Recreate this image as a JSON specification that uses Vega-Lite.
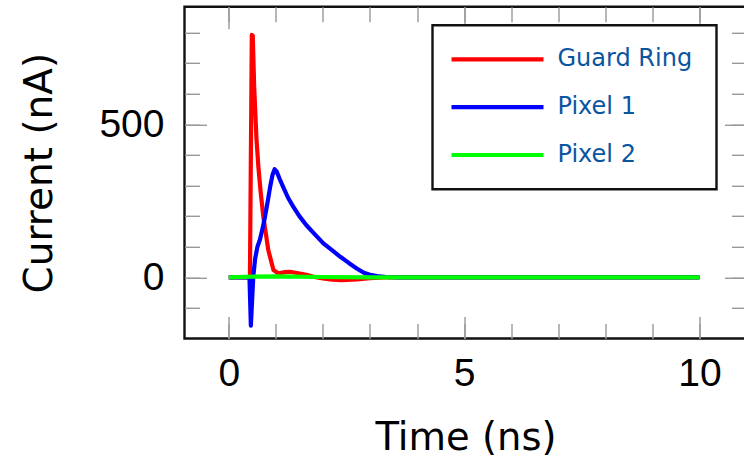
{
  "$schema": "https://vega.github.io/schema/vega-lite/v6.json",
  "width": 562,
  "height": 331.7,
  "autosize": {"type": "none"},
  "padding": {"left": 184.5, "top": 6.8, "right": 0, "bottom": 124.5},
  "background": "white",
  "config": {
    "view": {"stroke": "#111111", "strokeWidth": 2.4},
    "axis": {"domain": false, "grid": false, "tickColor": "#999999", "tickWidth": 1.4},
    "legend": {"strokeWidth": 2.4}
  },
  "data": {
    "values": [
      {"s": "Guard Ring", "t": 0, "v": 0},
      {"s": "Guard Ring", "t": 0.45, "v": 0},
      {"s": "Guard Ring", "t": 0.49, "v": 792},
      {"s": "Guard Ring", "t": 0.51, "v": 790},
      {"s": "Guard Ring", "t": 0.54, "v": 623},
      {"s": "Guard Ring", "t": 0.59, "v": 450},
      {"s": "Guard Ring", "t": 0.63, "v": 360},
      {"s": "Guard Ring", "t": 0.677, "v": 280},
      {"s": "Guard Ring", "t": 0.735, "v": 198},
      {"s": "Guard Ring", "t": 0.84, "v": 89},
      {"s": "Guard Ring", "t": 0.95, "v": 24},
      {"s": "Guard Ring", "t": 1.05, "v": 13},
      {"s": "Guard Ring", "t": 1.2, "v": 17},
      {"s": "Guard Ring", "t": 1.3, "v": 18},
      {"s": "Guard Ring", "t": 1.45, "v": 14},
      {"s": "Guard Ring", "t": 1.65, "v": 8},
      {"s": "Guard Ring", "t": 1.82, "v": 1},
      {"s": "Guard Ring", "t": 2.0, "v": -4},
      {"s": "Guard Ring", "t": 2.2, "v": -8},
      {"s": "Guard Ring", "t": 2.4, "v": -9},
      {"s": "Guard Ring", "t": 2.72, "v": -7},
      {"s": "Guard Ring", "t": 3.0, "v": -3},
      {"s": "Guard Ring", "t": 3.3, "v": 0},
      {"s": "Guard Ring", "t": 10, "v": 0},
      {"s": "Pixel 1", "t": 0, "v": 0},
      {"s": "Pixel 1", "t": 0.44, "v": 0},
      {"s": "Pixel 1", "t": 0.47, "v": -158},
      {"s": "Pixel 1", "t": 0.52, "v": 0},
      {"s": "Pixel 1", "t": 0.56, "v": 60},
      {"s": "Pixel 1", "t": 0.61, "v": 100},
      {"s": "Pixel 1", "t": 0.66, "v": 122},
      {"s": "Pixel 1", "t": 0.72, "v": 160},
      {"s": "Pixel 1", "t": 0.77, "v": 198},
      {"s": "Pixel 1", "t": 0.83, "v": 250},
      {"s": "Pixel 1", "t": 0.88, "v": 296},
      {"s": "Pixel 1", "t": 0.93, "v": 335},
      {"s": "Pixel 1", "t": 0.975, "v": 353},
      {"s": "Pixel 1", "t": 1.02, "v": 345},
      {"s": "Pixel 1", "t": 1.08, "v": 322},
      {"s": "Pixel 1", "t": 1.16, "v": 294},
      {"s": "Pixel 1", "t": 1.26, "v": 260},
      {"s": "Pixel 1", "t": 1.37, "v": 231},
      {"s": "Pixel 1", "t": 1.5, "v": 200},
      {"s": "Pixel 1", "t": 1.65, "v": 170},
      {"s": "Pixel 1", "t": 1.82, "v": 142},
      {"s": "Pixel 1", "t": 2.01, "v": 111},
      {"s": "Pixel 1", "t": 2.2, "v": 88},
      {"s": "Pixel 1", "t": 2.37, "v": 67},
      {"s": "Pixel 1", "t": 2.55, "v": 47},
      {"s": "Pixel 1", "t": 2.72, "v": 29},
      {"s": "Pixel 1", "t": 2.87, "v": 15},
      {"s": "Pixel 1", "t": 3.0, "v": 8},
      {"s": "Pixel 1", "t": 3.15, "v": 4},
      {"s": "Pixel 1", "t": 3.35, "v": 1},
      {"s": "Pixel 1", "t": 3.6, "v": 0},
      {"s": "Pixel 1", "t": 10, "v": 0},
      {"s": "Pixel 2", "t": 0, "v": 0},
      {"s": "Pixel 2", "t": 0.5, "v": 2},
      {"s": "Pixel 2", "t": 1.0, "v": 3},
      {"s": "Pixel 2", "t": 2.0, "v": 1},
      {"s": "Pixel 2", "t": 3.0, "v": 0},
      {"s": "Pixel 2", "t": 10, "v": 0}
    ]
  },
  "layer": [
    {
      "mark": {"type": "line", "strokeWidth": 4.2, "strokeJoin": "round", "clip": true},
      "encoding": {
        "x": {
          "field": "t", "type": "quantitative",
          "scale": {"domain": [-0.94, 11], "nice": false, "zero": false},
          "axis": {
            "orient": "bottom", "values": [0, 5, 10], "ticks": false,
            "labelFont": "Liberation Sans", "labelFontSize": 39, "labelColor": "#000000", "labelPadding": 15.5,
            "title": "Time (ns)", "titleFont": "DejaVu Sans", "titleFontSize": 38.5, "titleFontWeight": "normal",
            "titleColor": "#000000", "titleBaseline": "alphabetic", "titleY": 110.8
          }
        },
        "y": {
          "field": "v", "type": "quantitative",
          "scale": {"domain": [-200, 884], "nice": false, "zero": false},
          "axis": {
            "orient": "left", "values": [0, 500], "ticks": false,
            "labelFont": "Liberation Sans", "labelFontSize": 39, "labelColor": "#000000", "labelPadding": 20.5,
            "title": "Current (nA)", "titleFont": "DejaVu Sans", "titleFontSize": 39, "titleFontWeight": "normal",
            "titleColor": "#000000", "titleAngle": 270, "titleBaseline": "alphabetic", "titleAlign": "center",
            "titleX": -133
          }
        },
        "color": {
          "field": "s", "type": "nominal",
          "scale": {"domain": ["Guard Ring", "Pixel 1", "Pixel 2"], "range": ["#ff0000", "#0000ff", "#00ff00"]},
          "legend": {
            "title": null, "orient": "none", "legendX": 248, "legendY": 18.5,
            "symbolType": "stroke", "symbolSize": 8464, "symbolStrokeWidth": 4.2,
            "clipHeight": 35, "rowPadding": 12.85, "padding": 16.5, "symbolOffset": 0, "labelOffset": 11.5,
            "labelFont": "DejaVu Sans", "labelFontSize": 24, "labelColor": "#0a55a0",
            "labelExpr": "datum.label + '\u00a0\u200b'",
            "strokeColor": "#111111", "fillColor": "#ffffff", "cornerRadius": 0
          }
        }
      }
    },
    {
      "mark": {"type": "line", "opacity": 0},
      "encoding": {
        "x": {"field": "t", "type": "quantitative", "scale": {"domain": [-0.94, 11], "nice": false, "zero": false},
          "axis": {"orient": "bottom", "values": [0, 5, 10], "labels": false, "tickSize": -22, "title": null}},
        "y": {"field": "v", "type": "quantitative", "scale": {"domain": [-200, 884], "nice": false, "zero": false},
          "axis": {"orient": "left", "values": [0, 500], "labels": false, "tickSize": -22, "title": null}},
        "detail": {"field": "s"}
      }
    },
    {
      "mark": {"type": "line", "opacity": 0},
      "encoding": {
        "x": {"field": "t", "type": "quantitative", "scale": {"domain": [-0.94, 11], "nice": false, "zero": false},
          "axis": {"orient": "bottom", "values": [0, 1, 2, 3, 4, 5, 6, 7, 8, 9, 10], "labels": false, "tickSize": -15, "title": null}},
        "y": {"field": "v", "type": "quantitative", "scale": {"domain": [-200, 884], "nice": false, "zero": false},
          "axis": {"orient": "left", "values": [-100, 0, 100, 200, 300, 400, 500, 600, 700, 800], "labels": false, "tickSize": -15, "title": null}},
        "detail": {"field": "s"}
      }
    },
    {
      "mark": {"type": "line", "opacity": 0},
      "encoding": {
        "x": {"field": "t", "type": "quantitative", "scale": {"domain": [-0.94, 11], "nice": false, "zero": false},
          "axis": {"orient": "top", "values": [0, 5, 10], "labels": false, "tickSize": -22, "title": null}},
        "y": {"field": "v", "type": "quantitative", "scale": {"domain": [-200, 884], "nice": false, "zero": false},
          "axis": {"orient": "right", "values": [0, 500], "labels": false, "tickSize": -22, "title": null}},
        "detail": {"field": "s"}
      }
    },
    {
      "mark": {"type": "line", "opacity": 0},
      "encoding": {
        "x": {"field": "t", "type": "quantitative", "scale": {"domain": [-0.94, 11], "nice": false, "zero": false},
          "axis": {"orient": "top", "values": [0, 1, 2, 3, 4, 5, 6, 7, 8, 9, 10], "labels": false, "tickSize": -15, "title": null}},
        "y": {"field": "v", "type": "quantitative", "scale": {"domain": [-200, 884], "nice": false, "zero": false},
          "axis": {"orient": "right", "values": [-100, 0, 100, 200, 300, 400, 500, 600, 700, 800], "labels": false, "tickSize": -15, "title": null}},
        "detail": {"field": "s"}
      }
    }
  ],
  "resolve": {"axis": {"x": "independent", "y": "independent"}}
}
